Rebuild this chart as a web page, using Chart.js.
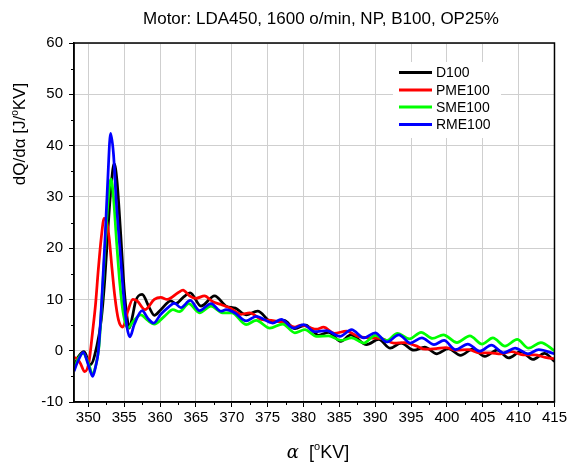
<!DOCTYPE html>
<html>
<head>
<meta charset="utf-8">
<script src="https://cdn.jsdelivr.net/npm/chart.js@4.4.0/dist/chart.umd.min.js"></script>
<style>
    html, body { margin: 0; padding: 0; background: #fff; }
    #wrap { width: 569px; height: 464px; }
</style>
</head>
<body>
<div id="wrap"><canvas id="heatChart" width="569" height="464"></canvas></div>
<script>
// series names and colours
const seriesNames = ['D100', 'PME100', 'SME100', 'RME100'];
const seriesColors = ['#000000', '#ff0000', '#00ff00', '#0000ff'];

// crank angle [deg KV] and heat release rate [J/deg KV]
const d100Angle = [348, 348.7, 349.4, 350.3, 351.2, 351.8, 352.3, 352.8, 353.2, 353.6, 354.0, 354.5, 355.0, 355.4, 355.7, 356.2, 356.6, 357.5, 358.5, 359.2, 360.1, 361.5, 362.2, 363.3, 364.2, 365.7, 367.6, 369.2, 370.5, 372.0, 373.6, 375.6, 377.3, 378.8, 380.3, 382.1, 383.5, 385.2, 386.6, 388.8, 390.5, 392.1, 393.6, 395.4, 396.9, 398.6, 400.2, 401.9, 403.6, 405.3, 407.0, 408.6, 410.3, 412.0, 413.6, 415.0];
const d100Rate = [-3.0, -1.0, -0.2, -2.7, 1.0, 6, 14, 25, 32.5, 36.5, 33, 23, 12, 6.5, 4.4, 7, 9.7, 11, 8.4, 6.9, 8, 9.7, 9.2, 10.5, 11.3, 8.7, 10.7, 8.7, 8.3, 7.0, 7.7, 5.6, 5.9, 4.3, 5.0, 3.0, 3.6, 1.8, 3.1, 1.2, 2.2, 0.5, 1.5, 0.1, 0.7, -0.6, 0.4, -0.9, 0.3, -1.1, 0.1, -1.4, -0.2, -1.7, -0.5, -2.1];

const pme100Angle = [348, 348.5, 348.9, 349.5, 350.1, 350.6, 351.0, 351.4, 351.8, 352.2, 352.5, 352.9, 353.3, 353.7, 354.2, 354.8, 355.5, 356.2, 356.8, 357.9, 359.2, 360.1, 361.0, 362.5, 363.2, 364.1, 365.0, 366.2, 367.3, 368.5, 369.8, 371.3, 372.5, 374.1, 375.5, 377.4, 378.8, 379.7, 380.9, 381.8, 382.8, 384.3, 386.0, 387.6, 389.3, 391.0, 392.6, 394.1, 395.6, 397.0, 398.5, 399.8, 401.3, 403.0, 404.5, 406.0, 407.5, 409.0, 410.6, 412.2, 413.7, 415.0];
const pme100Rate = [-1.3, -1.6, -2.5, -4.1, -2.1, 3.8, 9, 16, 22, 25.8, 25.5, 22, 16, 10.5, 6, 4.6, 7.7, 10, 9.7, 8.0, 10, 10.4, 10.0, 11.3, 11.8, 10.7, 10.2, 10.7, 9.6, 9.0, 8.3, 7.1, 7.4, 6.1, 5.9, 5.4, 4.6, 5.0, 4.5, 4.2, 4.6, 3.4, 3.8, 2.8, 2.5, 2.3, 1.5, 1.6, 1.0, 0.3, 0.4, 0.6, 0.1, 0.2, -0.4, -0.4, -0.6, -0.2, -0.8, -0.8, -1.3, -1.6];

const sme100Angle = [348, 348.6, 349.3, 349.9, 350.6, 351.1, 351.5, 351.9, 352.4, 352.8, 353.15, 353.5, 353.9, 354.4, 354.9, 355.5, 356.3, 357.3, 358.2, 359.2, 360.6, 361.8, 362.7, 364.0, 365.5, 367.1, 368.7, 370.0, 372.0, 373.4, 375.3, 377.1, 378.8, 380.2, 381.8, 383.5, 385.2, 386.7, 388.4, 390.0, 391.6, 393.1, 394.8, 396.4, 398.0, 399.5, 401.4, 403.2, 404.9, 406.4, 408.1, 409.8, 411.4, 413.1, 415.0];
const sme100Rate = [-3.7, -1.5, -0.5, -2.0, -4.4, -2.5, 1, 10, 22, 30, 33.5, 30, 22, 13, 7, 4.4, 5.8, 7.0, 6.0, 5.2, 6.7, 8.0, 7.6, 9.2, 7.4, 8.7, 7.4, 7.4, 5.1, 5.9, 4.4, 5.2, 3.5, 4.1, 2.8, 2.9, 2.0, 2.5, 1.5, 3.0, 2.0, 3.4, 2.3, 3.6, 2.4, 3.1, 1.6, 2.9, 1.3, 2.5, 0.9, 2.2, 0.5, 1.6, 0.0];

const rme100Angle = [348, 348.5, 349.3, 350.0, 350.6, 351.0, 351.4, 351.8, 352.3, 352.7, 353.1, 353.5, 353.9, 354.4, 354.9, 355.4, 355.8, 356.4, 357.5, 358.3, 359.1, 360.1, 361.1, 362.0, 362.9, 364.2, 365.5, 367.1, 368.5, 369.2, 370.4, 372.0, 373.4, 375.7, 376.9, 378.6, 380.0, 381.6, 383.2, 385.1, 386.7, 388.4, 390.0, 391.6, 393.3, 394.9, 396.5, 398.2, 399.6, 401.2, 402.9, 404.6, 406.2, 407.9, 409.5, 411.3, 412.8, 415.0];
const rme100Rate = [-4.0, -2.2, -0.3, -2.8, -5.0, -3.2, 0, 8, 21, 33, 42.4, 38.5, 29, 20, 11, 4.5, 2.7, 5.1, 7.8, 6.3, 5.4, 7.1, 8.4, 9.3, 8.4, 9.8, 7.8, 9.2, 7.7, 8.0, 7.4, 5.8, 6.7, 5.4, 6.1, 4.4, 5.1, 3.7, 3.9, 2.8, 4.1, 2.5, 3.5, 1.7, 3.1, 1.5, 2.5, 1.2, 2.0, 0.2, 1.3, -0.1, 1.1, -0.4, 0.5, -0.6, 0.2, -0.6];

// axis ticks
const xTicks = [350, 355, 360, 365, 370, 375, 380, 385, 390, 395, 400, 405, 410, 415];
const yTicks = [-10, 0, 10, 20, 30, 40, 50, 60];

const FONT = 'Arial, "Liberation Sans", sans-serif';


// utility functions
function toPoints(xs, ys) {
    return xs.map((x, i) => ({ x: x, y: ys[i] }));
}

// draws a list of text pieces (font / vertical shift) centred on x
function drawRuns(ctx, runs, x, y) {
    let total = 0;
    runs.forEach(r => {
        ctx.font = r.font;
        r.w = ctx.measureText(r.t).width;
        total += r.w;
    });
    let cx = x - total / 2;
    ctx.textAlign = 'left';
    ctx.textBaseline = 'alphabetic';
    runs.forEach(r => {
        ctx.font = r.font;
        ctx.fillText(r.t, cx, y + (r.dy || 0));
        cx += r.w;
    });
}


// extra drawing: box, minor ticks, legend, titles
const decorPlugin = {
    id: 'decor',
    beforeDatasetsDraw(chart) {
        const ctx = chart.ctx;
        ctx.save();
        ctx.fillStyle = '#fff';
        ctx.fillRect(393, 62, 108, 76);
        ctx.restore();
    },
    afterDraw(chart) {
        const ctx = chart.ctx;
        const area = chart.chartArea;
        const xs = chart.scales.x;
        const ys = chart.scales.y;
        ctx.save();

        // frame
        ctx.strokeStyle = '#000';
        ctx.lineWidth = 1.5;
        ctx.strokeRect(area.left, area.top, area.right - area.left, area.bottom - area.top);

        // minor ticks
        ctx.lineWidth = 1;
        ctx.beginPath();
        for (let v = 352.5; v < 415; v += 5) {
            const px = Math.round(xs.getPixelForValue(v)) + 0.5;
            ctx.moveTo(px, area.bottom);
            ctx.lineTo(px, area.bottom + 3);
        }
        for (let v = -5; v < 60; v += 10) {
            const py = Math.round(ys.getPixelForValue(v)) + 0.5;
            ctx.moveTo(area.left, py);
            ctx.lineTo(area.left - 3, py);
        }
        ctx.stroke();

        // legend
        const rows = [72.5, 90, 107, 124.5];
        chart.data.datasets.forEach((ds, i) => {
            ctx.strokeStyle = ds.borderColor;
            ctx.lineWidth = 3;
            ctx.beginPath();
            ctx.moveTo(399, rows[i]);
            ctx.lineTo(432, rows[i]);
            ctx.stroke();
            ctx.fillStyle = '#000';
            ctx.font = '14px ' + FONT;
            ctx.textAlign = 'left';
            ctx.textBaseline = 'middle';
            ctx.fillText(ds.label, 436, rows[i] + 1);
        });

        // chart title
        ctx.fillStyle = '#000';
        ctx.font = '17px ' + FONT;
        ctx.textAlign = 'center';
        ctx.textBaseline = 'alphabetic';
        ctx.fillText('Motor: LDA450, 1600 o/min, NP, B100, OP25%', 321, 24);

        // x title
        drawRuns(ctx, [
            { t: 'α', font: 'italic 18px "DejaVu Serif", serif' },
            { t: '  [', font: '18px ' + FONT },
            { t: 'o', font: '11px ' + FONT, dy: -8 },
            { t: 'KV]', font: '18px ' + FONT }
        ], 318, 458);

        // y title
        ctx.translate(25, 134);
        ctx.rotate(-Math.PI / 2);
        drawRuns(ctx, [
            { t: 'dQ/dα [J/', font: '17px ' + FONT },
            { t: 'o', font: '10px ' + FONT, dy: -7 },
            { t: 'KV]', font: '17px ' + FONT }
        ], 0, 0);

        ctx.restore();
    }
};


// chart
const angles = [d100Angle, pme100Angle, sme100Angle, rme100Angle];
const rates = [d100Rate, pme100Rate, sme100Rate, rme100Rate];

const datasets = seriesNames.map((name, i) => ({
    label: name,
    data: toPoints(angles[i], rates[i]),
    borderColor: seriesColors[i],
    backgroundColor: seriesColors[i],
    borderWidth: 2.75,
    pointRadius: 0,
    fill: false,
    cubicInterpolationMode: 'monotone',
    order: seriesNames.length - i
}));

const ctx = document.getElementById('heatChart').getContext('2d');
new Chart(ctx, {
    type: 'line',
    data: { datasets: datasets },
    plugins: [decorPlugin],
    options: {
        responsive: false,
        animation: false,
        devicePixelRatio: 1,
        layout: { padding: { top: 43, right: 13, left: 0, bottom: 0 } },
        plugins: {
            legend: { display: false },
            title: { display: false },
            tooltip: { enabled: false }
        },
        scales: {
            x: {
                type: 'linear',
                min: 348,
                max: 415,
                afterBuildTicks: scale => {
                    scale.ticks = xTicks.map(v => ({ value: v }));
                },
                afterFit: scale => {
                    scale.height = 62;
                },
                grid: { color: '#cfcfcf', lineWidth: 1, tickColor: '#000', tickLength: 5 },
                border: { display: true, color: '#000', width: 1.5 },
                ticks: {
                    color: '#000',
                    font: { family: FONT, size: 15 },
                    padding: 2,
                    maxRotation: 0,
                    autoSkip: false
                }
            },
            y: {
                type: 'linear',
                min: -10,
                max: 60,
                afterBuildTicks: scale => {
                    scale.ticks = yTicks.map(v => ({ value: v }));
                },
                afterFit: scale => {
                    scale.width = 74;
                },
                grid: { color: '#cfcfcf', lineWidth: 1, tickColor: '#000', tickLength: 5 },
                border: { display: true, color: '#000', width: 1.5 },
                ticks: {
                    color: '#000',
                    font: { family: FONT, size: 15 },
                    padding: 6
                }
            }
        }
    }
});
</script>
</body>
</html>
